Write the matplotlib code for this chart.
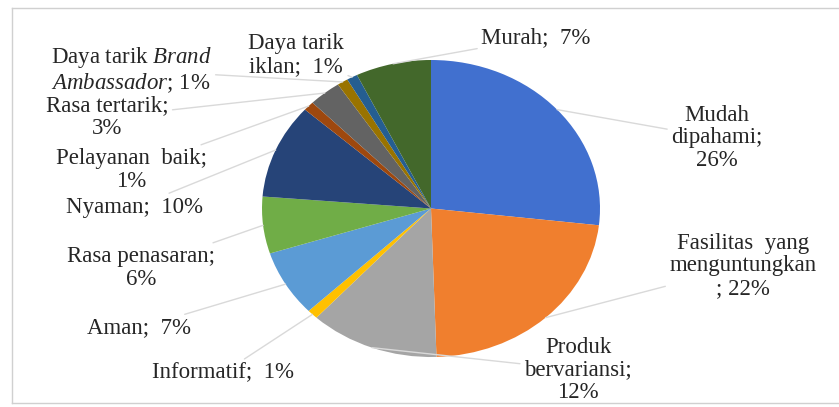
import numpy as np
import matplotlib
matplotlib.use("Agg")
import matplotlib.pyplot as plt
from matplotlib.lines import Line2D

plt.rcParams['font.family'] = ['Liberation Serif', 'DejaVu Serif']
plt.rcParams['mathtext.fontset'] = 'custom'
plt.rcParams['mathtext.rm'] = 'Liberation Serif'
plt.rcParams['mathtext.it'] = 'Liberation Serif:italic'

# data (clockwise from 12 o'clock)
categories = ['Mudah dipahami', 'Fasilitas yang menguntungkan', 'Produk bervariansi',
              'Informatif', 'Aman', 'Rasa penasaran', 'Nyaman', 'Pelayanan baik',
              'Rasa tertarik', 'Daya tarik Brand Ambassador', 'Daya tarik iklan', 'Murah']
values = [26, 22, 12, 1, 7, 6, 10, 1, 3, 1, 1, 7]
labels = ['Mudah\ndipahami;\n26%',
          'Fasilitas  yang\nmenguntungkan\n; 22%',
          'Produk\nbervariansi;\n12%',
          'Informatif;  1%',
          'Aman;  7%',
          'Rasa penasaran;\n6%',
          'Nyaman;  10%',
          'Pelayanan  baik;\n1%',
          'Rasa tertarik;\n3%',
          'Daya tarik $\\mathit{Brand}$\n$\\mathit{Ambassador}$; 1%',
          'Daya tarik\niklan;  1%',
          'Murah;  7%']
colors = ['#4170CF', '#F07F2E', '#A5A5A5', '#FFC000', '#5B9BD5', '#70AD47',
          '#264478', '#9E480E', '#636363', '#997300', '#255E91', '#43682B']

# label centres in pixels (layout)
label_pos = [(717, 138), (743, 266), (578, 370), (223, 373), (139, 328), (141, 268),
             (135, 207), (131, 170), (107, 117), (131, 70), (296, 55), (536, 38)]

W, H = 839, 407
cx, cy, rx, ry = 431, 208.5, 169, 148.5

fig = plt.figure(figsize=(W / 100, H / 100), dpi=100)
ax = fig.add_axes([0, 0, 1, 1])
wedges, _ = ax.pie(values, colors=colors, startangle=90, counterclock=False,
                   wedgeprops=dict(edgecolor='none'))
ax.set_aspect('auto')
ax.set_xlim(-cx / rx, (W - cx) / rx)
ax.set_ylim(-(H - cy) / ry, cy / ry)
ax.axis('off')

for w, lab, (px, py) in zip(wedges, labels, label_pos):
    mid = np.deg2rad((w.theta1 + w.theta2) / 2)
    ax.annotate(lab, xy=(np.cos(mid), np.sin(mid)), xytext=(px / W, 1 - py / H),
                textcoords='axes fraction', ha='center', va='center',
                fontsize=16.5, color='#262626', linespacing=1.12,
                arrowprops=dict(arrowstyle='-', color='#d9d9d9', lw=1,
                                shrinkA=1, shrinkB=0))

# chart area border
for xs, ys in [((12, 12), (8, 403)), ((12, W), (8, 8)), ((12, W), (403, 403))]:
    fig.add_artist(Line2D([x / W for x in xs], [1 - y / H for y in ys],
                          color='#d0d0d0', lw=1))

fig.savefig('out.png', dpi=100)
